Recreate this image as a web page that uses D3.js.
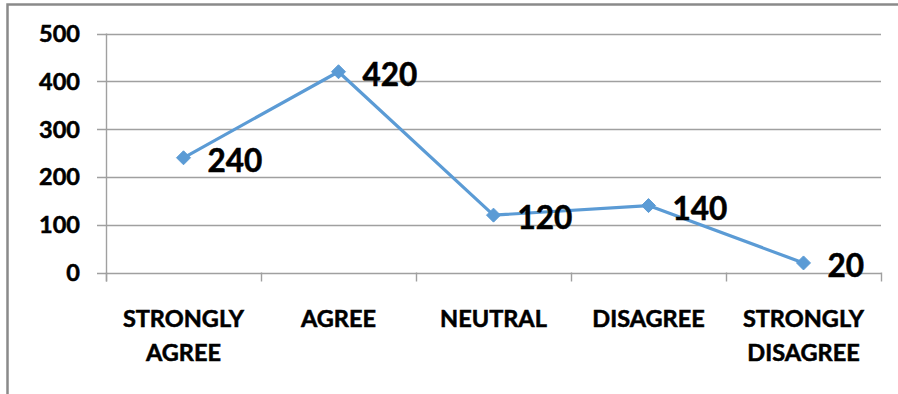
<!DOCTYPE html>
<html>
<head>
<meta charset="utf-8">
<script src="https://cdn.jsdelivr.net/npm/d3@7"></script>
<style>
  html, body { margin: 0; padding: 0; background: #fff; }
  svg { display: block; }
  text { font-family: Lato, "Open Sans", sans-serif; font-weight: 700; fill: #000; stroke: #000; stroke-width: 0.55px; }
</style>
</head>
<body>
<svg id="chart" width="898" height="394"></svg>
<script>
// Survey responses per answer option
const categories = [["STRONGLY", "AGREE"], ["AGREE"], ["NEUTRAL"], ["DISAGREE"], ["STRONGLY", "DISAGREE"]];
const categoryKeys = ["STRONGLY AGREE", "AGREE", "NEUTRAL", "DISAGREE", "STRONGLY DISAGREE"];
const responses = [240, 420, 120, 140, 20];
const yTicks = [0, 100, 200, 300, 400, 500];

const W = 898, H = 394;
const plot = { left: 106, right: 881, top: 33.5, bottom: 272.5 };

const svg = d3.select("#chart");

// outer frame
svg.append("rect")
  .attr("x", 7.5).attr("y", 4.5)
  .attr("width", W + 20).attr("height", H + 20)
  .attr("fill", "none")
  .attr("stroke", "#8a8a8a")
  .attr("stroke-width", 2.5);

const x = d3.scaleBand().domain(categoryKeys).range([plot.left, plot.right]).padding(0);
const y = d3.scaleLinear().domain([0, 500]).range([plot.bottom, plot.top]);
const cx = k => x(k) + x.bandwidth() / 2;

const gridColor = "#a0a0a0";

// horizontal gridlines with short ticks to the left of the axis
svg.append("g").selectAll("line").data(yTicks).join("line")
  .attr("x1", plot.left - 9).attr("x2", plot.right)
  .attr("y1", d => Math.round(y(d)) + 0.5).attr("y2", d => Math.round(y(d)) + 0.5)
  .attr("stroke", gridColor).attr("stroke-width", 1.4);

// vertical axis line
svg.append("line")
  .attr("x1", plot.left + 0.5).attr("x2", plot.left + 0.5)
  .attr("y1", y(500)).attr("y2", plot.bottom + 9)
  .attr("stroke", gridColor).attr("stroke-width", 1.4);

// category boundary ticks
const edges = categoryKeys.map(k => x(k)).concat([plot.right]);
svg.append("g").selectAll("line").data(edges).join("line")
  .attr("x1", d => Math.round(d) + 0.5).attr("x2", d => Math.round(d) + 0.5)
  .attr("y1", plot.bottom).attr("y2", plot.bottom + 9)
  .attr("stroke", gridColor).attr("stroke-width", 1.4);

// y tick labels
svg.append("g").selectAll("text").data(yTicks).join("text")
  .attr("x", 80).attr("y", d => y(d))
  .attr("dy", "0.36em")
  .attr("text-anchor", "end")
  .attr("font-size", 23.5)
  .text(d => d);

// category labels
const catG = svg.append("g").selectAll("text").data(categoryKeys).join("text")
  .attr("text-anchor", "middle")
  .attr("font-size", 23.5)
  .attr("x", k => cx(k))
  .attr("y", 327);
catG.each(function(k, i) {
  d3.select(this).selectAll("tspan").data(categories[i]).join("tspan")
    .attr("x", cx(k))
    .attr("dy", (d, j) => j === 0 ? 0 : 34)
    .text(d => d);
});

// series line
const pts = categoryKeys.map((k, i) => ({ k, v: responses[i] }));
svg.append("path")
  .datum(pts)
  .attr("fill", "none")
  .attr("stroke", "#5b9bd5")
  .attr("stroke-width", 3.2)
  .attr("stroke-linejoin", "round")
  .attr("d", d3.line().x(d => cx(d.k)).y(d => y(d.v)));

// diamond markers
svg.append("g").selectAll("path").data(pts).join("path")
  .attr("transform", d => `translate(${cx(d.k)},${y(d.v)})`)
  .attr("d", "M0,-7L7,0L0,7L-7,0Z")
  .attr("fill", "#5b9bd5")
  .attr("stroke", "#5b9bd5")
  .attr("stroke-width", 1);

// value labels
svg.append("g").selectAll("text").data(pts).join("text")
  .attr("x", d => cx(d.k) + 24)
  .attr("y", d => y(d.v) + 3)
  .attr("dy", "0.36em")
  .attr("font-size", 31.5)
  .text(d => d.v);
</script>
</body>
</html>
